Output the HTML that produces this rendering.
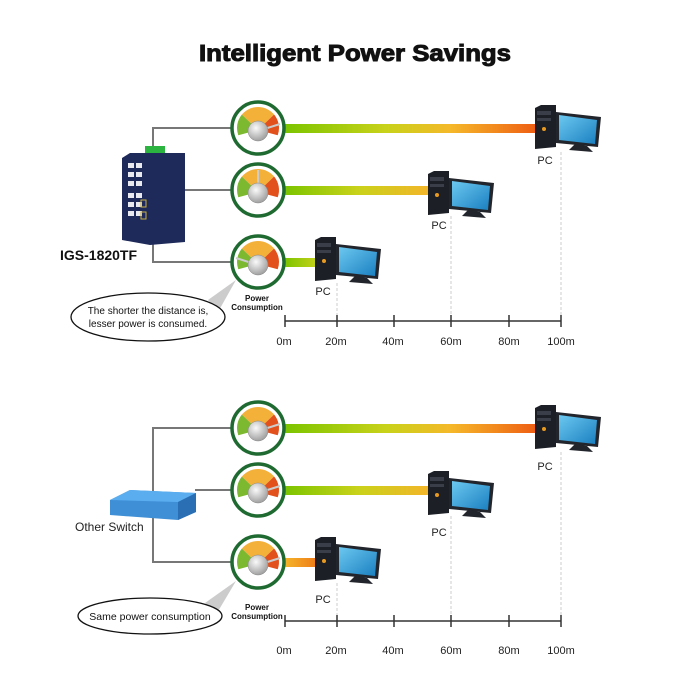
<!DOCTYPE html>
<html><head><meta charset="utf-8"><style>
html,body{margin:0;padding:0;background:#fff}
svg{display:block}
text{font-family:"Liberation Sans",sans-serif}
</style></head><body>
<svg width="699" height="699" viewBox="0 0 699 699" xmlns="http://www.w3.org/2000/svg">
<defs>
<linearGradient id="bar1" x1="0" x2="1"><stop offset="0" stop-color="#7cc400"/><stop offset="0.4" stop-color="#c9d21a"/><stop offset="0.65" stop-color="#f5b82a"/><stop offset="1" stop-color="#ee5a12"/></linearGradient>
<linearGradient id="bar2" x1="0" x2="1"><stop offset="0" stop-color="#7cc400"/><stop offset="0.5" stop-color="#c9d21a"/><stop offset="1" stop-color="#f4b42a"/></linearGradient>
<linearGradient id="bar3" x1="0" x2="1"><stop offset="0" stop-color="#7cc400"/><stop offset="1" stop-color="#c6d21c"/></linearGradient>
<linearGradient id="bar3b" x1="0" x2="1"><stop offset="0" stop-color="#f4b42a"/><stop offset="1" stop-color="#ee7a18"/></linearGradient>
<radialGradient id="knob" cx="0.4" cy="0.35" r="0.7"><stop offset="0" stop-color="#fafafa"/><stop offset="1" stop-color="#9a9a9a"/></radialGradient>
<linearGradient id="scr" x1="0" y1="0" x2="1" y2="1"><stop offset="0" stop-color="#6cc8f0"/><stop offset="1" stop-color="#1a7fc0"/></linearGradient>
<g id="gauge">
<circle r="26" fill="#fff" stroke="#1e6a30" stroke-width="3.5"/>
<path d="M0 2 L-19.7 7.2 A21 21 0 0 1 -16.1 -13.5 Z" fill="#7cb830"/>
<path d="M0 2 L-16.1 -13.5 A21 21 0 0 1 16.1 -13.5 Z" fill="#f4b13a"/>
<path d="M0 2 L16.1 -13.5 A21 21 0 0 1 19.7 7.2 Z" fill="#e2501c"/>
</g>
<g id="knobg"><circle cx="0" cy="3" r="10" fill="url(#knob)" stroke="#888" stroke-width="0.5"/></g>
<g id="pc">
<path d="M0 3 L6 0 L21 0 L21 42 L0 44 Z" fill="#1c1f26"/>
<rect x="2" y="6" width="14" height="4" fill="#3a3e48"/>
<rect x="2" y="13" width="14" height="3" fill="#3a3e48"/>
<circle cx="9" cy="24" r="2" fill="#e89a20"/>
<path d="M21 7 L66 12 L63 42 L21 38 Z" fill="#22252c"/>
<path d="M24 10 L62 15 L60 39 L24 35 Z" fill="url(#scr)"/>
<path d="M40 39 L52 41 L58 47 L34 45 Z" fill="#22252c"/>
</g>
</defs>

<text x="199" y="61" textLength="312" lengthAdjust="spacingAndGlyphs" font-size="23" font-weight="bold" fill="#111" stroke="#111" stroke-width="1">Intelligent Power Savings</text>

<!-- TOP SECTION -->
<g fill="none" stroke="#777" stroke-width="2">
<polyline points="231,128 153,128 153,262 231,262"/>
<line x1="185" y1="190" x2="231" y2="190"/>
</g>
<rect x="285" y="124" width="255" height="9" fill="url(#bar1)"/>
<rect x="285" y="186" width="146" height="9" fill="url(#bar2)"/>
<rect x="285" y="258" width="33" height="9" fill="url(#bar3)"/>

<use href="#gauge" x="258" y="128"/>
<use href="#gauge" x="258" y="190"/>
<use href="#gauge" x="258" y="262"/>
<line x1="258" y1="131" x2="280" y2="124" stroke="#ccc" stroke-width="2"/>
<line x1="258" y1="193" x2="258" y2="170" stroke="#ccc" stroke-width="2"/>
<line x1="258" y1="265" x2="236" y2="258" stroke="#ccc" stroke-width="2"/>
<use href="#knobg" x="258" y="128"/>
<use href="#knobg" x="258" y="190"/>
<use href="#knobg" x="258" y="262"/>

<rect x="145" y="146" width="20" height="10" fill="#2bb540"/>
<path d="M122 158 L130 153 L185 153 L185 242 L150 245 L122 240 Z" fill="#1e2a5a"/>
<g fill="#e8eaf0">
<rect x="128" y="163" width="6" height="5"/><rect x="136" y="163" width="6" height="5"/>
<rect x="128" y="172" width="6" height="5"/><rect x="136" y="172" width="6" height="5"/>
<rect x="128" y="181" width="6" height="5"/><rect x="136" y="181" width="6" height="5"/>
<rect x="128" y="193" width="6" height="5"/><rect x="136" y="193" width="6" height="5"/>
<rect x="128" y="202" width="6" height="5"/><rect x="136" y="202" width="6" height="5"/>
<rect x="128" y="211" width="6" height="5"/><rect x="136" y="211" width="6" height="5"/>
</g>
<rect x="141" y="200" width="5" height="7" fill="none" stroke="#c8b040"/>
<rect x="141" y="212" width="5" height="7" fill="none" stroke="#c8b040"/>
<text x="60" y="260" font-size="14" font-weight="bold" fill="#111">IGS-1820TF</text>

<use href="#pc" x="535" y="105"/>
<use href="#pc" x="428" y="171"/>
<use href="#pc" x="315" y="237"/>
<text x="545" y="164" text-anchor="middle" font-size="11" fill="#222">PC</text>
<text x="439" y="229" text-anchor="middle" font-size="11" fill="#222">PC</text>
<text x="323" y="295" text-anchor="middle" font-size="11" fill="#222">PC</text>

<g stroke="#ccc" stroke-dasharray="3,2" stroke-width="1">
<line x1="337" y1="283" x2="337" y2="321"/><line x1="451" y1="216" x2="451" y2="321"/><line x1="561" y1="152" x2="561" y2="321"/>
<line x1="337" y1="583" x2="337" y2="621"/><line x1="451" y1="516" x2="451" y2="621"/><line x1="561" y1="452" x2="561" y2="621"/>
</g>

<text x="257" y="301" text-anchor="middle" font-size="8" font-weight="bold" fill="#111">Power</text>
<text x="257" y="310" text-anchor="middle" font-size="8" font-weight="bold" fill="#111">Consumption</text>
<path d="M208 300 L236 280 L218 312 Z" fill="#ccc"/>
<ellipse cx="148" cy="317" rx="77" ry="24" fill="#fff" stroke="#111" stroke-width="1.3"/>
<text x="148" y="314" text-anchor="middle" font-size="10" fill="#111">The shorter the distance is,</text>
<text x="148" y="327" text-anchor="middle" font-size="10" fill="#111">lesser power is consumed.</text>

<g stroke="#333" stroke-width="1.5">
<line x1="285" y1="321" x2="561" y2="321"/>
<line x1="285" y1="315" x2="285" y2="327"/><line x1="337" y1="315" x2="337" y2="327"/><line x1="394" y1="315" x2="394" y2="327"/><line x1="451" y1="315" x2="451" y2="327"/><line x1="509" y1="315" x2="509" y2="327"/><line x1="561" y1="315" x2="561" y2="327"/>
<line x1="285" y1="621" x2="561" y2="621"/>
<line x1="285" y1="615" x2="285" y2="627"/><line x1="337" y1="615" x2="337" y2="627"/><line x1="394" y1="615" x2="394" y2="627"/><line x1="451" y1="615" x2="451" y2="627"/><line x1="509" y1="615" x2="509" y2="627"/><line x1="561" y1="615" x2="561" y2="627"/>
</g>
<g font-size="11" fill="#222" text-anchor="middle">
<text x="284" y="345">0m</text><text x="336" y="345">20m</text><text x="393" y="345">40m</text><text x="451" y="345">60m</text><text x="509" y="345">80m</text><text x="561" y="345">100m</text>
<text x="284" y="654">0m</text><text x="336" y="654">20m</text><text x="393" y="654">40m</text><text x="451" y="654">60m</text><text x="509" y="654">80m</text><text x="561" y="654">100m</text>
</g>

<!-- BOTTOM SECTION -->
<g fill="none" stroke="#777" stroke-width="2">
<polyline points="231,428 153,428 153,562 231,562"/>
<line x1="195" y1="490" x2="231" y2="490"/>
</g>
<rect x="285" y="424" width="255" height="9" fill="url(#bar1)"/>
<rect x="285" y="486" width="146" height="9" fill="url(#bar2)"/>
<rect x="285" y="558" width="33" height="9" fill="url(#bar3b)"/>
<use href="#gauge" x="258" y="428"/>
<use href="#gauge" x="258" y="490"/>
<use href="#gauge" x="258" y="562"/>
<line x1="258" y1="431" x2="280" y2="424" stroke="#ccc" stroke-width="2"/>
<line x1="258" y1="493" x2="280" y2="486" stroke="#ccc" stroke-width="2"/>
<line x1="258" y1="565" x2="280" y2="558" stroke="#ccc" stroke-width="2"/>
<use href="#knobg" x="258" y="428"/>
<use href="#knobg" x="258" y="490"/>
<use href="#knobg" x="258" y="562"/>

<path d="M110 500 L130 490 L196 493 L196 512 L178 520 L110 515 Z" fill="#3f8fd6"/>
<path d="M110 500 L130 490 L196 493 L178 502 Z" fill="#5aaef0"/>
<path d="M178 502 L196 493 L196 512 L178 520 Z" fill="#2a6fb4"/>
<text x="75" y="531" font-size="12" fill="#222">Other Switch</text>

<use href="#pc" x="535" y="405"/>
<use href="#pc" x="428" y="471"/>
<use href="#pc" x="315" y="537"/>
<text x="545" y="470" text-anchor="middle" font-size="11" fill="#222">PC</text>
<text x="439" y="536" text-anchor="middle" font-size="11" fill="#222">PC</text>
<text x="323" y="603" text-anchor="middle" font-size="11" fill="#222">PC</text>

<text x="257" y="610" text-anchor="middle" font-size="8" font-weight="bold" fill="#111">Power</text>
<text x="257" y="619" text-anchor="middle" font-size="8" font-weight="bold" fill="#111">Consumption</text>
<path d="M205 603 L236 581 L217 613 Z" fill="#ccc"/>
<ellipse cx="150" cy="616" rx="72" ry="18" fill="#fff" stroke="#111" stroke-width="1.3"/>
<text x="150" y="620" text-anchor="middle" font-size="10.5" fill="#111">Same power consumption</text>
</svg>
</body></html>
